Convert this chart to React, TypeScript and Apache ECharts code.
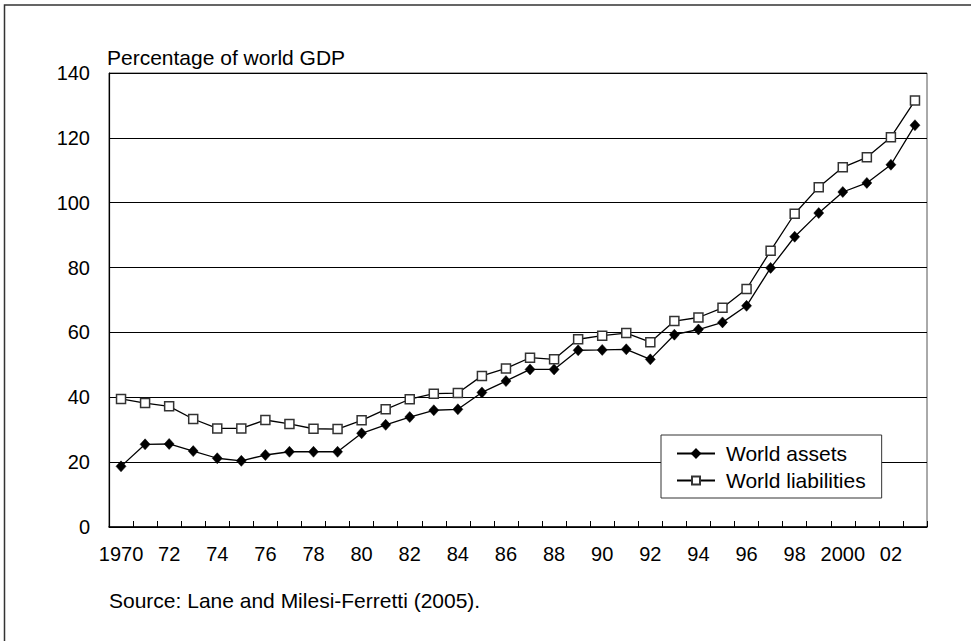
import React, { useEffect, useRef } from "react";
import * as echarts from "echarts";

const years = [
  "1970", "1971", "1972", "1973", "1974", "1975", "1976", "1977", "1978", "1979",
  "1980", "1981", "1982", "1983", "1984", "1985", "1986", "1987", "1988", "1989",
  "1990", "1991", "1992", "1993", "1994", "1995", "1996", "1997", "1998", "1999",
  "2000", "2001", "2002", "2003",
];

const worldAssets = [
  18.7, 25.5, 25.6, 23.4, 21.2, 20.4, 22.2, 23.2, 23.2, 23.2,
  28.9, 31.5, 33.9, 36.0, 36.3, 41.5, 45.0, 48.6, 48.6, 54.5,
  54.6, 54.8, 51.7, 59.3, 60.9, 63.1, 68.2, 79.9, 89.5, 96.8,
  103.3, 106.1, 111.7, 123.9,
];

const worldLiabilities = [
  39.5, 38.2, 37.2, 33.3, 30.4, 30.4, 33.0, 31.8, 30.3, 30.2,
  32.9, 36.3, 39.4, 41.1, 41.3, 46.6, 48.9, 52.2, 51.7, 57.9,
  59.0, 59.8, 57.0, 63.5, 64.6, 67.6, 73.4, 85.2, 96.6, 104.8,
  110.9, 114.0, 120.2, 131.5,
];

// Tick labels shown on the x axis (every other year)
const xTickLabels: Record<string, string> = {
  "1970": "1970", "1972": "72", "1974": "74", "1976": "76", "1978": "78",
  "1980": "80", "1982": "82", "1984": "84", "1986": "86", "1988": "88",
  "1990": "90", "1992": "92", "1994": "94", "1996": "96", "1998": "98",
  "2000": "2000", "2002": "02",
};

const yTicks = [0, 20, 40, 60, 80, 100, 120, 140];

const FONT = "'Liberation Sans', Arial, Helvetica, sans-serif";

export default function App() {
  const ref = useRef<HTMLDivElement>(null);

  useEffect(() => {
    if (!ref.current) return;
    const chart = echarts.init(ref.current, undefined, { renderer: "svg" });
    chart.setOption({
      animation: false,
      backgroundColor: "#ffffff",
      textStyle: { fontFamily: FONT },
      grid: {
        left: 109,
        top: 73,
        right: 44,
        bottom: 114,
        show: true,
        borderColor: "#555",
        borderWidth: 1,
        backgroundColor: "transparent",
      },
      legend: {
        orient: "vertical",
        left: 661,
        top: 435,
        padding: [8, 16, 7, 15],
        itemGap: 6,
        itemWidth: 38,
        itemHeight: 10,
        backgroundColor: "#ffffff",
        borderColor: "#333",
        borderWidth: 1,
        borderRadius: 0,
        textStyle: {
          fontFamily: FONT,
          fontSize: 21,
          color: "#000",
          padding: [0, 0, 0, 6],
        },
        data: ["World assets", "World liabilities"],
      },
      xAxis: {
        type: "category",
        data: years,
        boundaryGap: true,
        axisLine: { lineStyle: { color: "#000", width: 1.5 } },
        axisTick: {
          show: true,
          inside: true,
          length: 6,
          interval: 0,
          lineStyle: { color: "#000", width: 1 },
        },
        axisLabel: {
          interval: 0,
          margin: 17,
          fontFamily: FONT,
          fontSize: 20,
          color: "#000",
          formatter: (v: string) => xTickLabels[v] ?? "",
        },
        splitLine: { show: false },
      },
      yAxis: {
        type: "value",
        min: yTicks[0],
        max: yTicks[yTicks.length - 1],
        interval: 20,
        axisLine: { show: true, lineStyle: { color: "#000", width: 1.2 } },
        axisTick: { show: false },
        axisLabel: {
          margin: 19,
          fontFamily: FONT,
          fontSize: 20,
          color: "#000",
        },
        splitLine: { show: true, lineStyle: { color: "#000", width: 1 } },
      },
      series: [
        {
          name: "World assets",
          type: "line",
          data: worldAssets,
          symbol: "diamond",
          symbolSize: [10, 11],
          lineStyle: { color: "#000", width: 1.3 },
          itemStyle: { color: "#000", borderColor: "#000", borderWidth: 0.5 },
          z: 3,
        },
        {
          name: "World liabilities",
          type: "line",
          data: worldLiabilities,
          symbol: "rect",
          symbolSize: 9,
          lineStyle: { color: "#000", width: 1.3 },
          itemStyle: { color: "#ffffff", borderColor: "#333", borderWidth: 1.5 },
          z: 3,
        },
      ],
      graphic: [
        {
          type: "polyline",
          shape: { points: [[4.5, 641], [4.5, 5], [971, 5]] },
          style: { stroke: "#333", lineWidth: 1.5, fill: "none" },
          silent: true,
        },
        {
          type: "text",
          x: 107,
          y: 57,
          style: {
            text: "Percentage of world GDP",
            fontFamily: FONT,
            fontSize: 21,
            fill: "#000",
            textAlign: "left",
            textVerticalAlign: "middle",
          },
        },
        {
          type: "text",
          x: 109,
          y: 600,
          style: {
            text: "Source: Lane and Milesi-Ferretti (2005).",
            fontFamily: FONT,
            fontSize: 21,
            fill: "#000",
            textAlign: "left",
            textVerticalAlign: "middle",
          },
        },
      ],
    });
    return () => chart.dispose();
  }, []);

  return (
    <div
      ref={ref}
      style={{ position: "absolute", left: 0, top: 0, width: 971, height: 641 }}
    />
  );
}
